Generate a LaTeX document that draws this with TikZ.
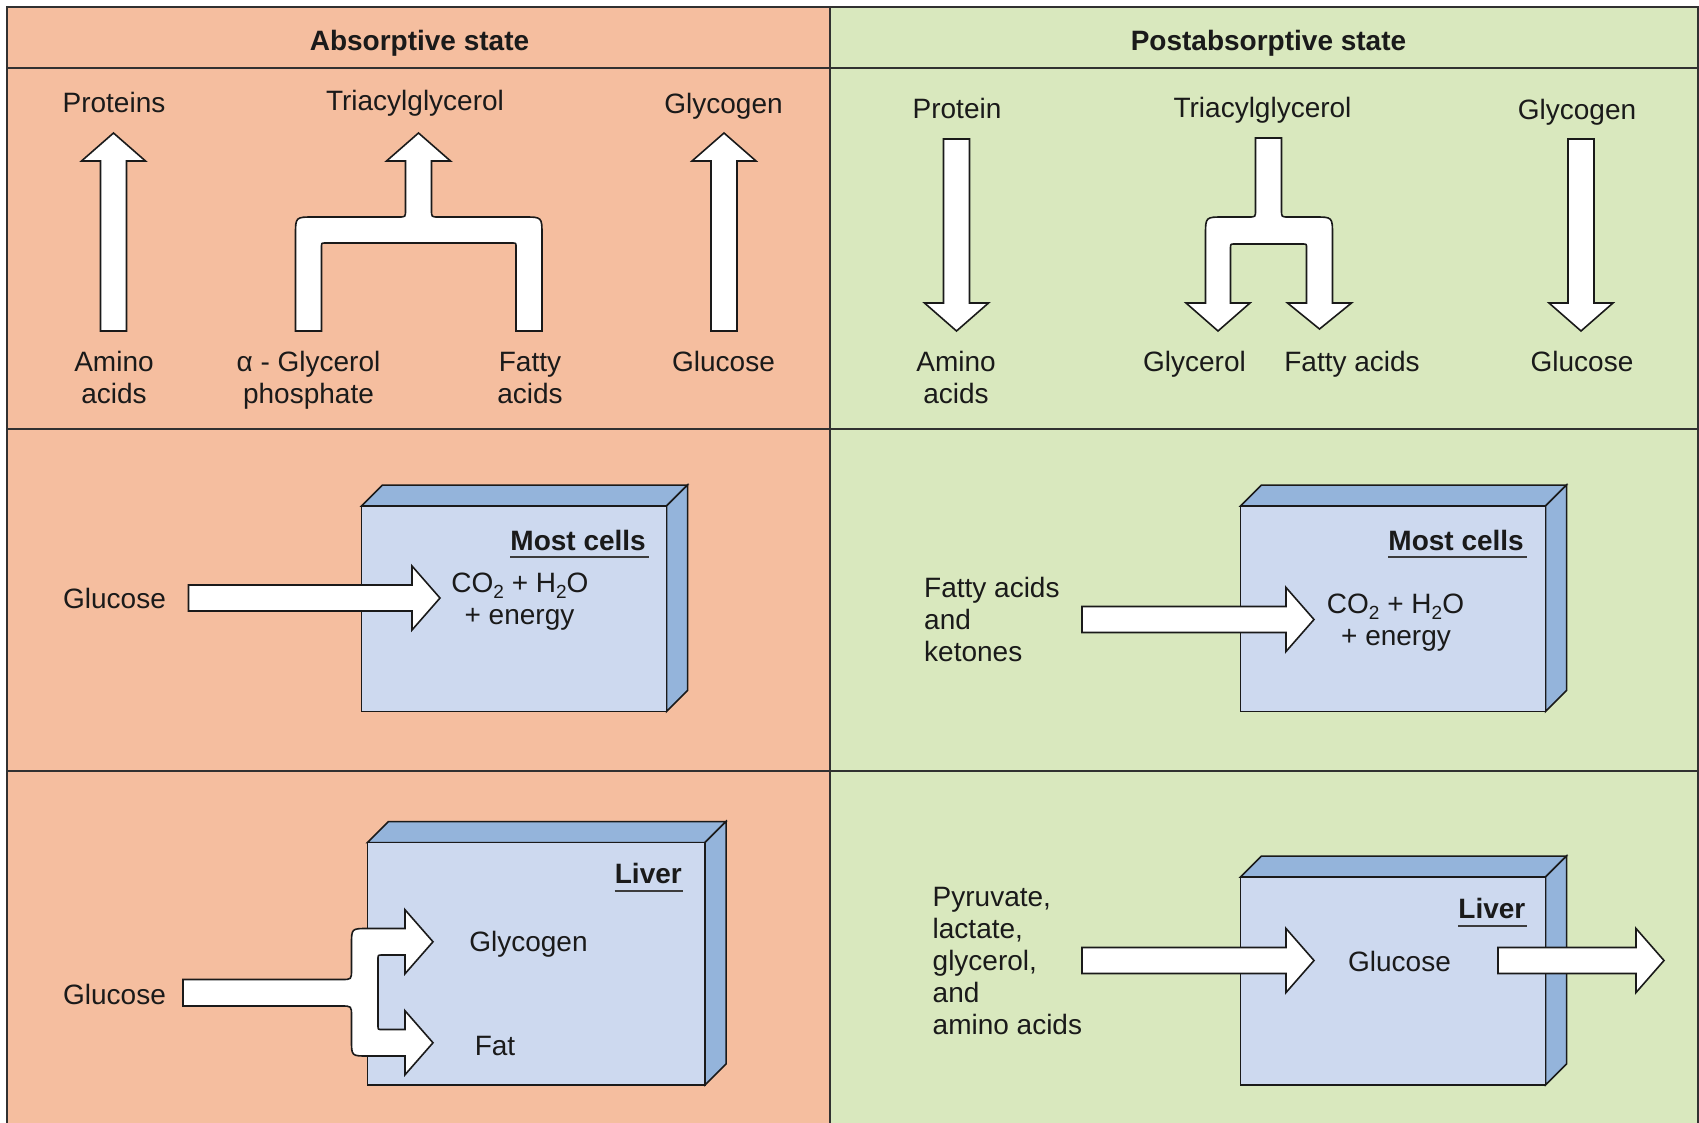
\documentclass[tikz,border=0pt]{standalone}
\usepackage{fontspec}
\setmainfont{Liberation Sans}
\usetikzlibrary{calc}

\definecolor{peach}{HTML}{F5BE9F}
\definecolor{sage}{HTML}{D9E8BE}
\definecolor{boxfront}{HTML}{CDD9EF}
\definecolor{boxside}{HTML}{94B4DB}
\definecolor{ink}{HTML}{1A1A1A}

% lowered digit for chemical formulas
\newcommand\chemsub[1]{\raisebox{-6pt}{\fontsize{19}{19}\selectfont #1}}

\tikzset{
  lbl/.style={font=\fontsize{28}{32}\selectfont, text=ink, inner sep=0pt, anchor=base},
  hdr/.style={lbl, font=\fontsize{28}{32}\selectfont\bfseries},
  cellttl/.style={hdr, anchor=base east},
  uline/.style={draw=ink!85, line width=2pt},
  blockarrow/.style={fill=white, draw=ink, line width=1.6pt, line join=miter},
  boxface/.style={draw=ink, line width=1.5pt, line join=miter},
  gridline/.style={draw=ink!90, line width=2pt},
}

% straight block arrows between a tail and a tip coordinate
\newcommand\blkup[2]{%
  \filldraw[blockarrow] ([xshift=-13pt]#1) -- ([xshift=-13pt,yshift=-28pt]#2)
    -- ([xshift=-32pt,yshift=-28pt]#2) -- (#2) -- ([xshift=32pt,yshift=-28pt]#2)
    -- ([xshift=13pt,yshift=-28pt]#2) -- ([xshift=13pt]#1) -- cycle;}
\newcommand\blkdown[2]{%
  \filldraw[blockarrow] ([xshift=-13pt]#1) -- ([xshift=-13pt,yshift=28pt]#2)
    -- ([xshift=-32pt,yshift=28pt]#2) -- (#2) -- ([xshift=32pt,yshift=28pt]#2)
    -- ([xshift=13pt,yshift=28pt]#2) -- ([xshift=13pt]#1) -- cycle;}
\newcommand\blkright[2]{%
  \filldraw[blockarrow] ([yshift=13pt]#1) -- ([xshift=-28pt,yshift=13pt]#2)
    -- ([xshift=-28pt,yshift=32pt]#2) -- (#2) -- ([xshift=-28pt,yshift=-32pt]#2)
    -- ([xshift=-28pt,yshift=-13pt]#2) -- ([yshift=-13pt]#1) -- cycle;}

% cell drawn as a slab: front face (x1,y1)-(x2,y2), depth to the upper right
\newcommand\cellbox[4]{%
  \filldraw[boxface, fill=boxside] (#1,#2) -- (#1+21,#2-21) -- (#3+21,#2-21) -- (#3,#2) -- cycle;
  \filldraw[boxface, fill=boxside] (#3,#2) -- (#3+21,#2-21) -- (#3+21,#4-21) -- (#3,#4) -- cycle;
  \filldraw[boxface, fill=boxfront] (#1,#2) rectangle (#3,#4);}

\begin{document}
\begin{tikzpicture}[x=1pt,y=-1pt]
\useasboundingbox (0,0) rectangle (1699,1122);

% two columns
\fill[peach] (7,6.5) rectangle (830,1130);
\fill[sage] (830,6.5) rectangle (1698,1130);
\draw[gridline] (7,1130) -- (7,6.5) -- (1698,6.5) -- (1698,1130);
\draw[gridline] (830,6.5) -- (830,1130);
\draw[gridline] (7,67.5) -- (1698,67.5);
\draw[gridline] (7,429) -- (1698,429);
\draw[gridline] (7,770.5) -- (1698,770.5);

% headings
\node[hdr] (hAbs) at (419.5,50) {Absorptive state};
\node[hdr] (hPost) at (1268.5,50) {Postabsorptive state};

% ---------- storage row: absorptive ----------
% (multi-line labels are placed by the baseline of their last line)
\node[lbl] (aProt) at (114,112) {Proteins};
\node[lbl] (aTag) at (415,110) {Triacylglycerol};
\node[lbl] (aGlyc) at (723.5,113) {Glycogen};
\node[lbl, align=center] (aAmino) at (114,403) {Amino\\acids};
\node[lbl, align=center] (aGlyP) at (308.5,403) {α - Glycerol\\phosphate};
\node[lbl, align=center] (aFat) at (530,403) {Fatty\\acids};
\node[lbl] (aGluc) at (723.5,371) {Glucose};

\coordinate (aProtTail) at (113.5,331); \coordinate (aProtTip) at (113.5,133);
\coordinate (aGlycTail) at (724,331);   \coordinate (aGlycTip) at (724,133);
\blkup{aProtTail}{aProtTip}
\blkup{aGlycTail}{aGlycTip}
% glycerol phosphate + fatty acids joining into triacylglycerol
\filldraw[blockarrow] (295.5,331) -- (295.5,235) .. controls (295.5,217) .. (313.5,217)
  -- (398.5,217) .. controls (405.5,217) .. (405.5,210) -- (405.5,161) -- (386.5,161)
  -- (418.5,133) -- (450.5,161) -- (431.5,161) -- (431.5,210)
  .. controls (431.5,217) .. (438.5,217) -- (524,217) .. controls (542,217) .. (542,235)
  -- (542,331) -- (516,331) -- (516,247) .. controls (516,243) .. (512,243)
  -- (325.5,243) .. controls (321.5,243) .. (321.5,247) -- (321.5,331) -- cycle;

% ---------- storage row: postabsorptive ----------
\node[lbl] (pProt) at (957,118) {Protein};
\node[lbl] (pTag) at (1262.5,117) {Triacylglycerol};
\node[lbl] (pGlyc) at (1577,119) {Glycogen};
\node[lbl, align=center] (pAmino) at (956,403) {Amino\\acids};
\node[lbl] (pGlyr) at (1194.5,371) {Glycerol};
\node[lbl] (pFat) at (1352,371) {Fatty acids};
\node[lbl] (pGluc) at (1582,371) {Glucose};

\coordinate (pProtTail) at (956.5,139); \coordinate (pProtTip) at (956.5,331);
\coordinate (pGlycTail) at (1581,139);  \coordinate (pGlycTip) at (1581,331);
\blkdown{pProtTail}{pProtTip}
\blkdown{pGlycTail}{pGlycTip}
% triacylglycerol splitting into glycerol and fatty acids
\filldraw[blockarrow] (1255.5,138) -- (1281.5,138) -- (1281.5,210)
  .. controls (1281.5,217) .. (1288.5,217) -- (1314.5,217) .. controls (1332.5,217) .. (1332.5,235)
  -- (1332.5,303) -- (1351.5,303) -- (1319.5,329) -- (1287.5,303) -- (1306.5,303)
  -- (1306.5,248) .. controls (1306.5,244) .. (1302.5,244) -- (1234.5,244)
  .. controls (1230.5,244) .. (1230.5,248) -- (1230.5,303) -- (1250,303) -- (1218,331)
  -- (1186,303) -- (1205.5,303) -- (1205.5,235) .. controls (1205.5,217) .. (1223.5,217)
  -- (1248.5,217) .. controls (1255.5,217) .. (1255.5,210) -- cycle;

% ---------- most cells ----------
\cellbox{361.5}{506}{666.5}{711.5}
\cellbox{1240.5}{506}{1545.5}{711.5}

\node[cellttl] (aCells) at (646,550) {Most cells};
\draw[uline] ([yshift=-7pt]aCells.base west) -- ([xshift=3pt,yshift=-7pt]aCells.base east);
\node[lbl] (aGlucM) at (114.5,608) {Glucose};
\coordinate (aGlucMTail) at (188.5,598); \coordinate (aGlucMTip) at (440,598);
\blkright{aGlucMTail}{aGlucMTip}
\node[lbl] (aCO) at (520,592) {CO\chemsub{2} + H\chemsub{2}O};
\node[lbl] (aEn) at (519.5,624) {+ energy};

\node[cellttl] (pCells) at (1524,550) {Most cells};
\draw[uline] ([yshift=-7pt]pCells.base west) -- ([xshift=3pt,yshift=-7pt]pCells.base east);
\node[lbl, anchor=base west, align=left] (pFuel) at (924,661) {Fatty acids\\and\\ketones};
\coordinate (pFuelTail) at (1082,619.5); \coordinate (pFuelTip) at (1314,619.5);
\blkright{pFuelTail}{pFuelTip}
\node[lbl] (pCO) at (1395.5,613) {CO\chemsub{2} + H\chemsub{2}O};
\node[lbl] (pEn) at (1396,645) {+ energy};

% ---------- liver ----------
\cellbox{367.5}{842.5}{705}{1085}
\cellbox{1240.5}{877}{1545.5}{1085}

\node[cellttl] (aLiver) at (682,883) {Liver};
\draw[uline] ([yshift=-8pt]aLiver.base west) -- ([xshift=1pt,yshift=-8pt]aLiver.base east);
\node[lbl] (aGlucL) at (114.5,1004) {Glucose};
\node[lbl] (aGlycL) at (528.5,951) {Glycogen};
\node[lbl] (aFatL) at (495,1055) {Fat};
% glucose branching into glycogen and fat
\filldraw[blockarrow] (183,979.5) -- (341.5,979.5) .. controls (351.5,979.5) .. (351.5,969.5)
  -- (351.5,944.5) .. controls (351.5,928.5) .. (367.5,928.5) -- (405,928.5) -- (405,909.75)
  -- (433,941.75) -- (405,973.75) -- (405,955) -- (382,955) .. controls (378,955) .. (378,959)
  -- (378,1025.5) .. controls (378,1029.5) .. (382,1029.5) -- (405,1029.5) -- (405,1010.75)
  -- (433,1042.75) -- (405,1074.75) -- (405,1056) -- (367.5,1056)
  .. controls (351.5,1056) .. (351.5,1040) -- (351.5,1016) .. controls (351.5,1006) .. (341.5,1006)
  -- (183,1006) -- cycle;

\node[cellttl] (pLiver) at (1525.5,918) {Liver};
\draw[uline] ([yshift=-8pt]pLiver.base west) -- ([xshift=1pt,yshift=-8pt]pLiver.base east);
\node[lbl, anchor=base west, align=left] (pPrec) at (932.5,1034.5)
  {Pyruvate,\\lactate,\\glycerol,\\and\\amino acids};
\node[lbl] (pGlucL) at (1399.5,971.5) {Glucose};
\coordinate (pPrecTail) at (1082,960.5); \coordinate (pPrecTip) at (1314,960.5);
\coordinate (pOutTail) at (1498,960.5);  \coordinate (pOutTip) at (1664,960.5);
\blkright{pPrecTail}{pPrecTip}
\blkright{pOutTail}{pOutTip}
\end{tikzpicture}
\end{document}
